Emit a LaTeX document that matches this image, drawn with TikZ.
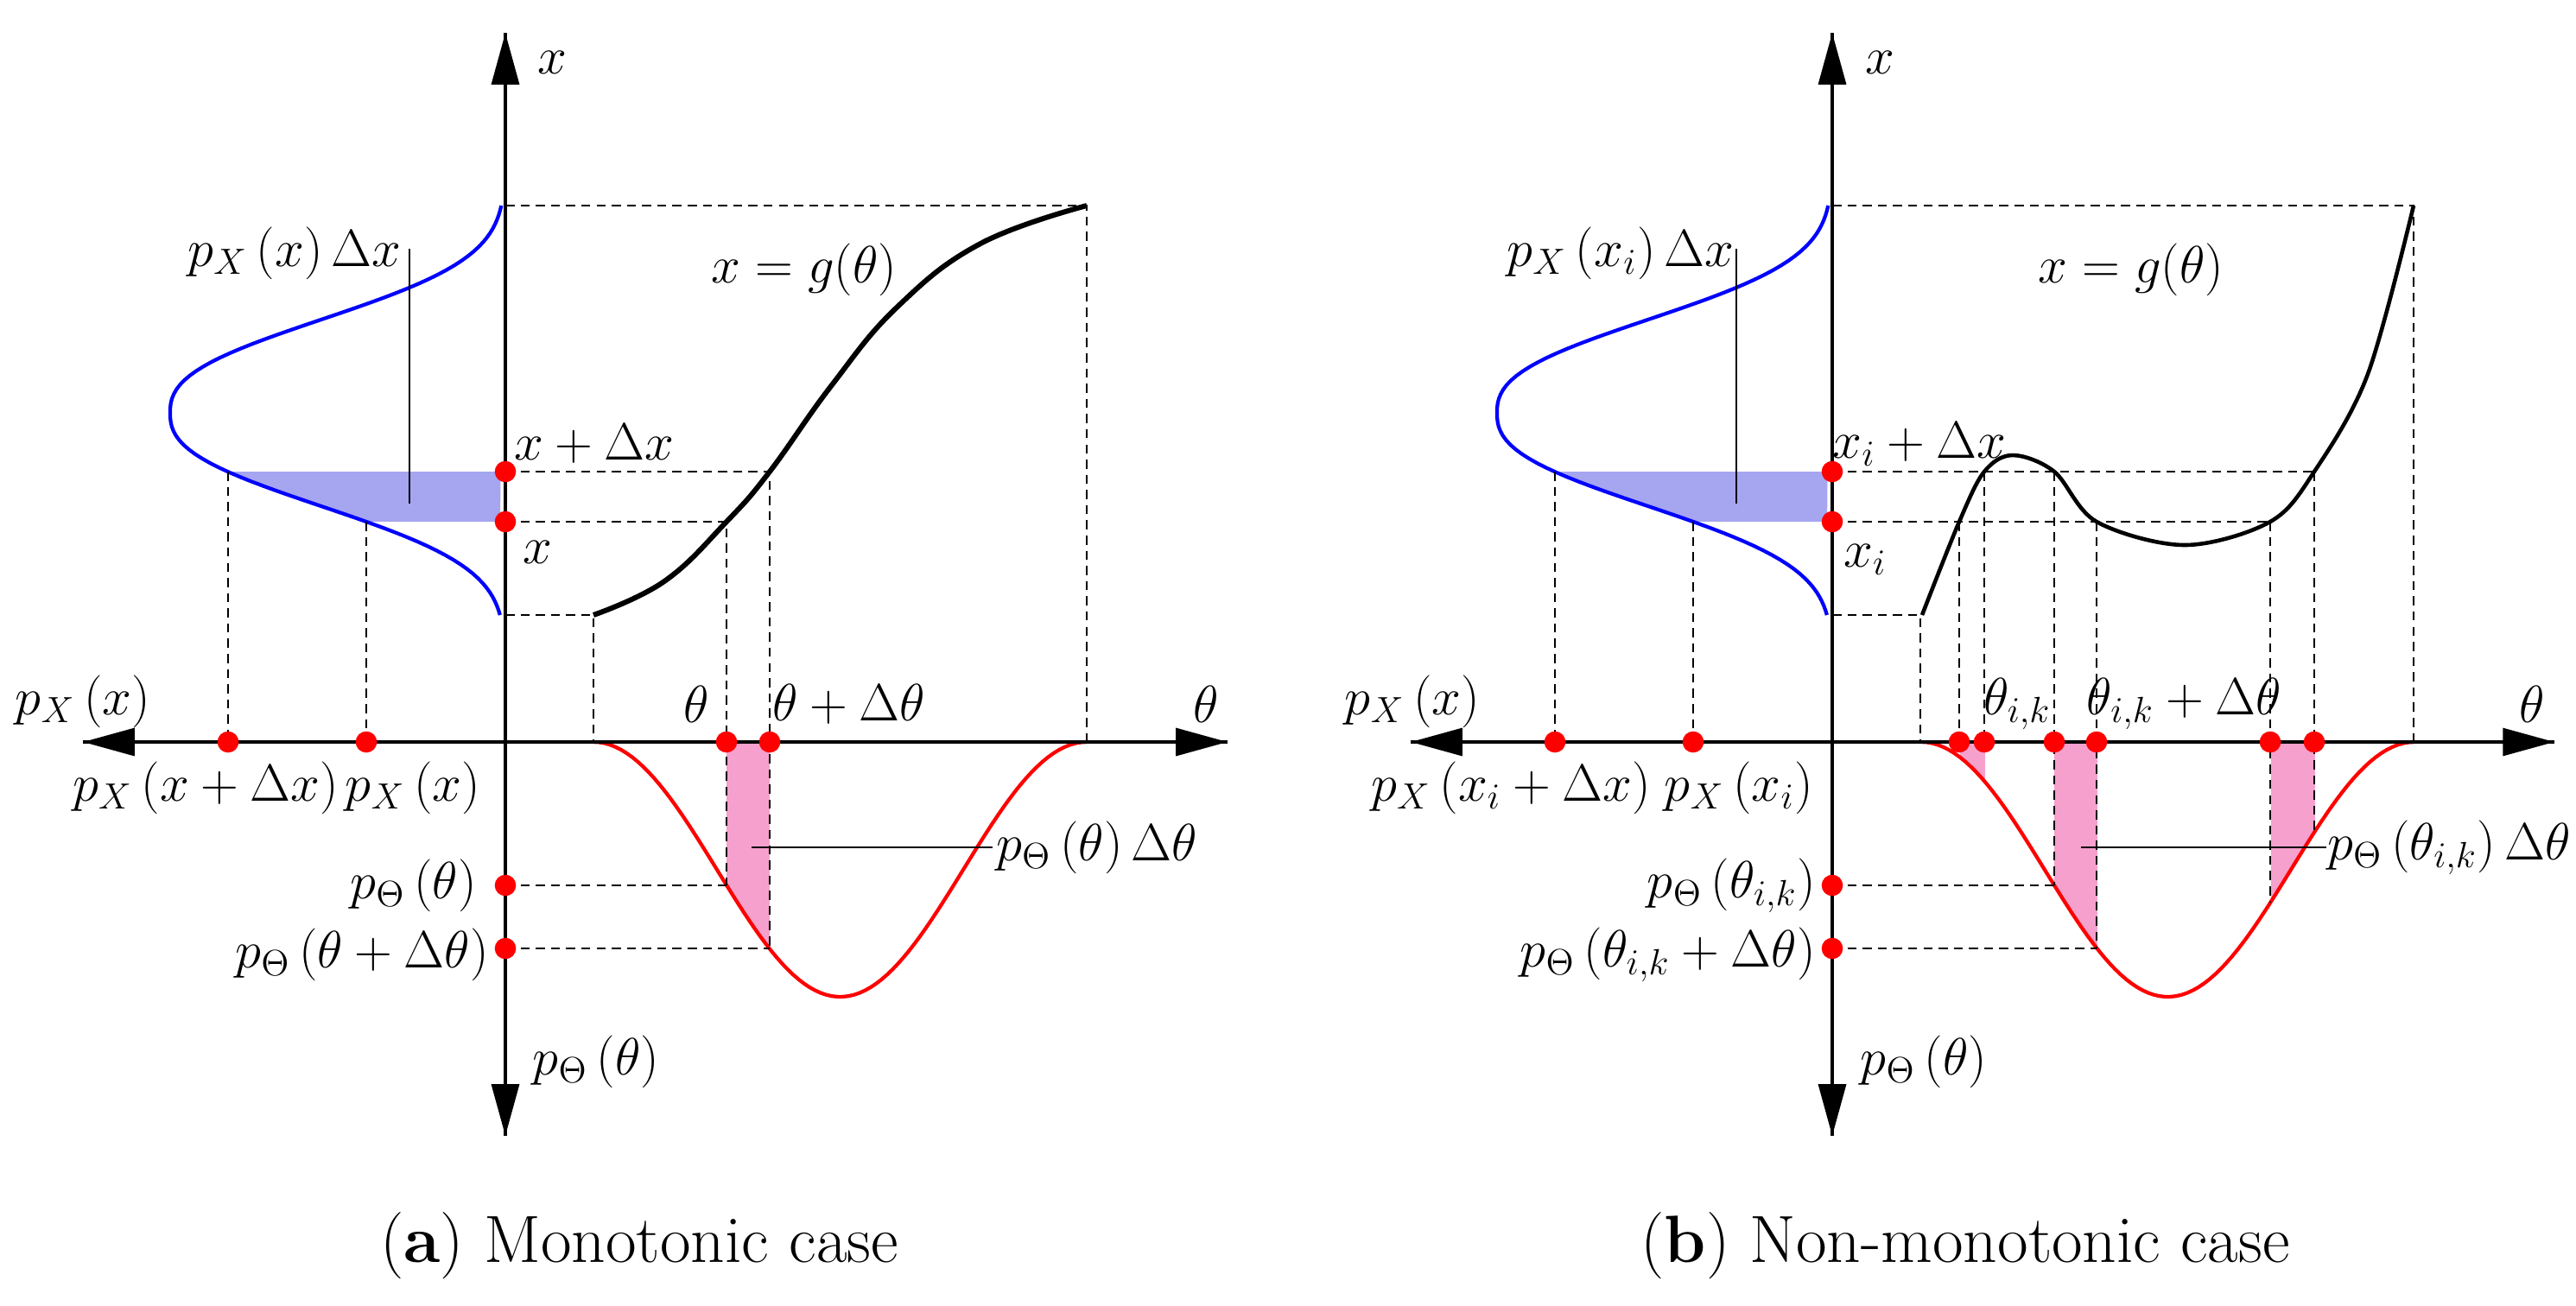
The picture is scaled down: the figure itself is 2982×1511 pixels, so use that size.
\documentclass[tikz,border=0pt]{standalone}
\usetikzlibrary{arrows.meta}
\begin{document}
\begin{tikzpicture}[x=0.01cm,y=-0.01cm,
  ax/.style={line width=1.2pt,-{Triangle[length=17pt,width=9pt]}},
  dsh/.style={line width=0.5pt,dash pattern=on 3pt off 2pt},
  dot/.style={circle,fill=red,inner sep=0pt,minimum size=7pt},
  lab/.style={font=\fontsize{17}{20}\selectfont,inner sep=1pt},
  captext/.style={font=\fontsize{22}{26}\selectfont},
  bc/.style={blue,line width=1.2pt},
  rc/.style={red,line width=1.2pt},
  bfill/.style={fill={rgb,255:red,165;green,165;blue,240}},
  pfill/.style={fill={rgb,255:red,245;green,160;blue,205}},
  bluecurve/.style={insert path={plot[domain=238:712,samples=90,variable=\t] ({585-388*exp(-(abs(\t-478)/132.6)^2.5)},\t)}},
  redcurve/.style={insert path={plot[domain=687:1258,samples=90] (\x,{859+147.5*(1-cos(0.63047*(\x-687)))})}}]
\useasboundingbox (0,0) rectangle (2982,1511);
% ---------- common parts for both panels ----------
\foreach \sh/\nm in {0/a,1536/b}{
\begin{scope}[xshift=\sh*0.01cm]
  \begin{scope}\clip[bluecurve] -- cycle;
    \fill[bfill] (150,546) rectangle (585,604);
  \end{scope}
  \draw[bc,bluecurve];
  \coordinate (\nm top) at (585,238);
  \coordinate (\nm bot) at (585,712);
  \coordinate (\nm b1) at (264,546);
  \coordinate (\nm b2) at (424,604);
  \coordinate (\nm b1a) at (264,859);
  \coordinate (\nm b2a) at (424,859);
  \coordinate (\nm gs) at (687,712);
  \coordinate (\nm gsa) at (687,859);
  \coordinate (\nm ge) at (1258,238);
  \coordinate (\nm gea) at (1258,859);
  \draw[dsh] (\nm b1) -- (\nm b1a);
  \draw[dsh] (\nm b2) -- (\nm b2a);
  \draw[dsh] (\nm top) -- (\nm ge) -- (\nm gea);
  \draw[dsh] (\nm bot) -- (\nm gs) -- (\nm gsa);
  \coordinate (\nm d1) at (585,546);
  \coordinate (\nm d2) at (585,604);
  \coordinate (\nm d3) at (264,859);
  \coordinate (\nm d4) at (424,859);
  \coordinate (\nm d5) at (585,1025);
  \coordinate (\nm d6) at (585,1098);
\end{scope}}
% ---------- panel (a) ----------
\begin{scope}\clip[redcurve] -- cycle;
  \fill[pfill] (841,859) rectangle (891,1200);
\end{scope}
\draw[rc,redcurve];
\coordinate (ag1) at (841,604);
\coordinate (ag2) at (891,546);
\coordinate (ar1) at (841,1025);
\coordinate (ar2) at (891,1098);
\draw[dsh] (ad1) -- (ag2) -- (ar2);
\draw[dsh] (ad2) -- (ag1) -- (ar1);
\draw[dsh] (ad5) -- (ar1);
\draw[dsh] (ad6) -- (ar2);
\draw[line width=1.7pt] plot[smooth,tension=0.7] coordinates{(687,712)(769,673)(841,604)(891,546)(962,447)(1038,356)(1135,282)(1258,238)};
\coordinate (axl) at (96,859); \coordinate (axr) at (1421,859);
\coordinate (axt) at (585,38); \coordinate (axb) at (585,1315);
\draw[ax] (axr) -- (axl);
\draw[ax] (axl) -- (axr);
\draw[ax] (axb) -- (axt);
\draw[ax] (axt) -- (axb);
\node[dot] (at1) at (841,859) {};
\node[dot] (at2) at (891,859) {};
\foreach \n in {1,...,6} \node[dot] (adot\n) at (ad\n) {};
\coordinate (al1) at (474,288); \coordinate (al2) at (474,583);
\draw[line width=0.8pt] (al1) -- (al2);
\coordinate (al3) at (870,981); \coordinate (al4) at (1149,981);
\draw[line width=0.8pt] (al3) -- (al4);
\node[lab] (la1) at (341,293) {$p_X\,(x)\,\Delta x$};
\node[lab,anchor=west] (la2) at (1149,981) {$p_\Theta\,(\theta)\,\Delta\theta$};
\node[lab] (la3) at (639,72) {$x$};
\node[lab] (la4) at (931,312) {$x=g(\theta)$};
\node[lab] (la5) at (688,514) {$x+\Delta x$};
\node[lab] (la6) at (622,639) {$x$};
\node[lab] (la7) at (96,812) {$p_X\,(x)$};
\node[lab] (la8) at (806,815) {$\theta$};
\node[lab] (la9) at (983,815) {$\theta+\Delta\theta$};
\node[lab] (la10) at (1396,815) {$\theta$};
\node[lab] (la11) at (238,912) {$p_X\,(x+\Delta x)$};
\node[lab] (la12) at (478,912) {$p_X\,(x)$};
\node[lab,anchor=east] (la13) at (556,1025) {$p_\Theta\,(\theta)$};
\node[lab,anchor=east] (la14) at (570,1105) {$p_\Theta\,(\theta+\Delta\theta)$};
\node[lab] (la15) at (690,1229) {$p_\Theta\,(\theta)$};
\node[captext] (ca) at (740,1442) {(\textbf{a}) Monotonic case};
% ---------- panel (b) ----------
\begin{scope}[xshift=15.36cm]
  \begin{scope}\clip[redcurve] -- cycle;
    \fill[pfill] (732,859) rectangle (761,1200);
    \fill[pfill] (841,859) rectangle (891,1200);
    \fill[pfill] (1092,859) rectangle (1143,1200);
  \end{scope}
  \draw[rc,redcurve];
\end{scope}
\foreach \i/\xx/\yy in {1/2268/604,2/2297/546,3/2378/546,4/2427/604,5/2628/604,6/2679/546}{
  \coordinate (bg\i) at (\xx,\yy);
  \coordinate (bga\i) at (\xx,859);}
\coordinate (br3) at (2378,1025);
\coordinate (br4) at (2427,1098);
\coordinate (br5) at (2628,1044);
\coordinate (br6) at (2679,962);
\draw[dsh] (bd1) -- (bg6);
\draw[dsh] (bd2) -- (bg5);
\draw[dsh] (bg1) -- (bga1);
\draw[dsh] (bg2) -- (bga2);
\draw[dsh] (bg3) -- (br3);
\draw[dsh] (bg4) -- (br4);
\draw[dsh] (bg5) -- (br5);
\draw[dsh] (bg6) -- (br6);
\draw[dsh] (bd5) -- (br3);
\draw[dsh] (bd6) -- (br4);
\draw[line width=1.3pt] plot[smooth,tension=0.55] coordinates{(2225,712)(2268,604)(2297,546)(2330,527)(2378,546)(2427,604)(2529,631)(2628,604)(2679,546)(2741,433)(2794,238)};
\coordinate (bxl) at (1633,859); \coordinate (bxr) at (2957,859);
\coordinate (bxt) at (2121,38); \coordinate (bxb) at (2121,1315);
\draw[ax] (bxr) -- (bxl);
\draw[ax] (bxl) -- (bxr);
\draw[ax] (bxb) -- (bxt);
\draw[ax] (bxt) -- (bxb);
\foreach \i in {1,...,6} \node[dot] (bt\i) at (bga\i) {};
\foreach \n in {1,...,6} \node[dot] (bdot\n) at (bd\n) {};
\coordinate (bl1) at (2010,288); \coordinate (bl2) at (2010,583);
\draw[line width=0.8pt] (bl1) -- (bl2);
\coordinate (bl3) at (2409,981); \coordinate (bl4) at (2693,981);
\draw[line width=0.8pt] (bl3) -- (bl4);
\node[lab] (lb1) at (1876,293) {$p_X\,(x_i)\,\Delta x$};
\node[lab,anchor=west] (lb2) at (2690,981) {$p_\Theta\,(\theta_{i,k})\,\Delta\theta$};
\node[lab] (lb3) at (2176,72) {$x$};
\node[lab] (lb4) at (2467,312) {$x=g(\theta)$};
\node[lab] (lb5) at (2222,514) {$x_i+\Delta x$};
\node[lab] (lb6) at (2159,648) {$x_i$};
\node[lab] (lb7) at (1635,812) {$p_X\,(x)$};
\node[lab] (lb8) at (2335,815) {$\theta_{i,k}$};
\node[lab] (lb9) at (2528,815) {$\theta_{i,k}+\Delta\theta$};
\node[lab] (lb10) at (2931,815) {$\theta$};
\node[lab] (lb11) at (1749,912) {$p_X\,(x_i+\Delta x)$};
\node[lab] (lb12) at (2013,912) {$p_X\,(x_i)$};
\node[lab,anchor=east] (lb13) at (2106,1025) {$p_\Theta\,(\theta_{i,k})$};
\node[lab,anchor=east] (lb14) at (2106,1105) {$p_\Theta\,(\theta_{i,k}+\Delta\theta)$};
\node[lab] (lb15) at (2227,1229) {$p_\Theta\,(\theta)$};
\node[captext] (cb) at (2275,1442) {(\textbf{b}) Non-monotonic case};
\end{tikzpicture}
\end{document}
